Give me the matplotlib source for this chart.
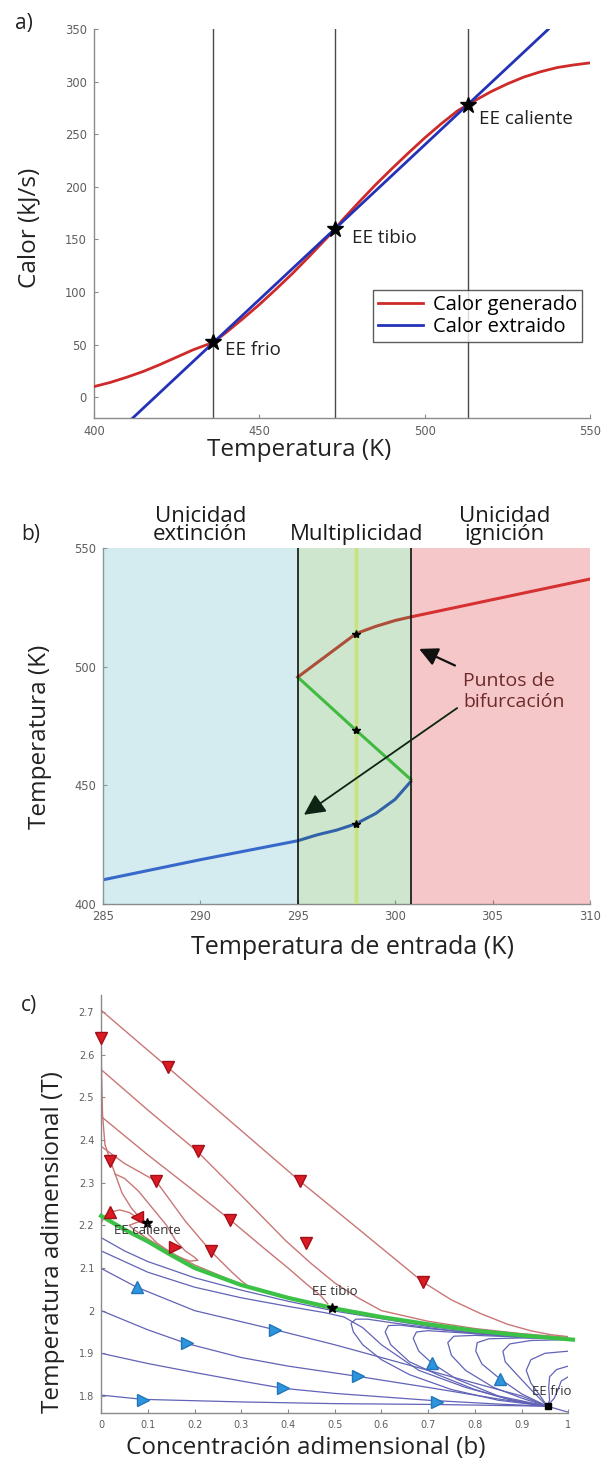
import matplotlib
matplotlib.use("Agg")
import matplotlib.pyplot as plt

plt.rcParams['font.family'] = ['Open Sans', 'DejaVu Sans']

# ---------------- Panel a data ----------------
gen_T = [400, 405, 410, 415, 420, 425, 430, 436, 440, 445, 450, 455, 460, 465, 470, 473,
         475, 480, 485, 490, 495, 500, 505, 510, 513, 515, 520, 525, 530, 535, 540, 545, 550]
gen_Q = [10, 14, 19, 24.5, 31, 38, 45, 52, 61.5, 74.5, 88, 102.5, 117.5, 133.5, 150, 160,
         168, 185, 201.5, 217, 232, 246.5, 260, 272.5, 278, 281.8, 290.5, 298, 304.5, 309.5, 313.5, 316, 318]
ext_T = [411.7, 537.4]
ext_Q = [-20, 350]
ss_T = [436, 473, 513]
ss_Q = [52, 160, 278]
ss_labels = ["EE frio", "EE tibio", "EE caliente"]
ss_label_T = [439.5, 478, 516.5]
ss_label_Q = [45, 151, 265]

# ---------------- Panel b data ----------------
hot_Tin = [295, 298, 299, 300, 300.8, 310]
hot_T = [495.6, 514, 517, 519.5, 521, 537]
mid_Tin = [295, 298, 300.8]
mid_T = [495.6, 473.1, 452.4]
cold_Tin = [285, 290, 295, 296, 297, 298, 299, 300, 300.8]
cold_T = [410, 418.5, 426.5, 429, 431, 433.7, 438, 444, 451.5]
region_edges = [285, 295, 300.8, 310]
region_names = ["Unicidad\nextinción", "Multiplicidad", "Unicidad\nignición"]
region_name_x = [290, 298, 305.6]
op_Tin = 298

# ---------------- Panel c data ----------------
green_b = [0, 0.05, 0.1, 0.15, 0.2, 0.3, 0.4, 0.5, 0.6, 0.7, 0.8, 0.9, 1.01]
green_T = [2.222, 2.19, 2.162, 2.13, 2.1, 2.06, 2.03, 2.005, 1.985, 1.968, 1.953, 1.942, 1.932]

red_b = [
    [0, 0.144, 0.3, 0.426, 0.55, 0.689, 0.75, 0.8125, 0.87, 0.919, 0.96, 1.0],
    [0, 0.1, 0.205, 0.3, 0.396, 0.45, 0.5, 0.55, 0.6, 0.7, 0.8, 0.9, 1.0],
    [0, 0.1, 0.19, 0.276, 0.35, 0.4, 0.44, 0.47, 0.485],
    [0, 0.05, 0.118, 0.18, 0.235, 0.28, 0.3, 0.312, 0.305, 0.29, 0.2, 0.15, 0.1, 0.07, 0.06, 0.08, 0.098],
    [0.03, 0.05, 0.08, 0.11, 0.14, 0.159, 0.18, 0.2, 0.207, 0.19, 0.16, 0.12, 0.1, 0.098],
    [0, 0, 0.001, 0.003, 0.008, 0.0186, 0.03, 0.045, 0.065, 0.085, 0.098],
    [0, 0.008, 0.019, 0.04, 0.06, 0.076, 0.09, 0.098],
]
red_T = [
    [2.704, 2.569, 2.422, 2.303, 2.192, 2.067, 2.025, 1.993, 1.968, 1.953, 1.944, 1.939],
    [2.565, 2.47, 2.374, 2.27, 2.163, 2.11, 2.065, 2.03, 2.0, 1.975, 1.958, 1.946, 1.937],
    [2.455, 2.365, 2.288, 2.213, 2.145, 2.1, 2.062, 2.035, 2.016],
    [2.385, 2.345, 2.303, 2.21, 2.139, 2.09, 2.07, 2.06, 2.058, 2.066, 2.107, 2.136, 2.168, 2.19, 2.2, 2.208, 2.206],
    [2.32, 2.31, 2.28, 2.24, 2.2, 2.165, 2.14, 2.125, 2.118, 2.116, 2.128, 2.158, 2.18, 2.206],
    [2.70, 2.64, 2.55, 2.46, 2.39, 2.355, 2.32, 2.275, 2.24, 2.215, 2.206],
    [2.205, 2.222, 2.231, 2.236, 2.23, 2.219, 2.21, 2.206],
]
red_mk_b = [0, 0.144, 0.208, 0.426, 0.019, 0.118, 0.276, 0.438, 0.689, 0.235, 0.159, 0.076, 0.019]
red_mk_T = [2.64, 2.572, 2.375, 2.303, 2.351, 2.303, 2.213, 2.159, 2.067, 2.139, 2.15, 2.219, 2.231]
red_mk_sym = ['v', 'v', 'v', 'v', 'v', 'v', 'v', 'v', 'v', 'v', '>', '<', '^']

blue_b = [
    [0, 0.05, 0.1, 0.2, 0.3, 0.4, 0.5, 0.6, 0.7, 0.8, 0.9, 1.0],
    [0, 0.1, 0.2, 0.3, 0.4, 0.48, 0.52, 0.56, 0.6, 0.68, 0.78, 0.88, 0.955],
    [0, 0.076, 0.2, 0.373, 0.5, 0.6, 0.7, 0.8, 0.9, 0.955],
    [0, 0.1, 0.183, 0.3, 0.4, 0.549, 0.7, 0.85, 0.955],
    [0, 0.1, 0.2, 0.3, 0.389, 0.5, 0.7, 0.85, 0.955],
    [0, 0.089, 0.3, 0.5, 0.718, 0.955],
    [1.0, 0.9, 0.8, 0.7, 0.62, 0.57, 0.545, 0.535, 0.54, 0.56, 0.6, 0.66, 0.75, 0.85, 0.955],
    [1.0, 0.9, 0.8, 0.7, 0.64, 0.615, 0.608, 0.62, 0.66, 0.72, 0.8, 0.88, 0.955],
    [1.0, 0.9, 0.8, 0.7, 0.675, 0.668, 0.68, 0.708, 0.76, 0.85, 0.955],
    [1.0, 0.9, 0.8, 0.755, 0.742, 0.75, 0.78, 0.84, 0.9, 0.955],
    [1.0, 0.9, 0.83, 0.805, 0.802, 0.815, 0.854, 0.9, 0.955],
    [1.0, 0.92, 0.875, 0.86, 0.865, 0.89, 0.92, 0.955],
    [1.0, 0.95, 0.92, 0.91, 0.92, 0.94, 0.955],
    [1.0, 0.975, 0.96, 0.958, 0.96, 0.955],
    [1.0, 0.985, 0.978, 0.97, 0.955],
    [0.955, 0.99, 1.0],
]
blue_T = [
    [2.171, 2.14, 2.115, 2.077, 2.048, 2.022, 1.999, 1.981, 1.963, 1.95, 1.94, 1.934],
    [2.14, 2.09, 2.055, 2.03, 2.01, 1.995, 1.985, 1.96, 1.92, 1.86, 1.82, 1.79, 1.776],
    [2.099, 2.055, 2.0, 1.955, 1.92, 1.89, 1.86, 1.83, 1.8, 1.776],
    [2.0, 1.955, 1.923, 1.89, 1.87, 1.846, 1.82, 1.793, 1.776],
    [1.9, 1.876, 1.855, 1.835, 1.818, 1.806, 1.79, 1.781, 1.776],
    [1.802, 1.792, 1.786, 1.782, 1.78, 1.776],
    [1.934, 1.937, 1.946, 1.96, 1.972, 1.98, 1.98, 1.97, 1.95, 1.92, 1.885, 1.85, 1.815, 1.79, 1.776],
    [1.934, 1.938, 1.948, 1.958, 1.966, 1.965, 1.95, 1.92, 1.88, 1.85, 1.815, 1.79, 1.776],
    [1.934, 1.938, 1.946, 1.953, 1.95, 1.935, 1.905, 1.877, 1.84, 1.8, 1.776],
    [1.934, 1.938, 1.942, 1.94, 1.925, 1.895, 1.86, 1.82, 1.795, 1.776],
    [1.934, 1.936, 1.934, 1.925, 1.905, 1.875, 1.84, 1.805, 1.776],
    [1.932, 1.93, 1.922, 1.905, 1.88, 1.85, 1.815, 1.776],
    [1.905, 1.9, 1.885, 1.86, 1.83, 1.8, 1.776],
    [1.87, 1.862, 1.845, 1.82, 1.79, 1.776],
    [1.845, 1.835, 1.815, 1.795, 1.776],
    [1.776, 1.765, 1.762],
]
blue_mk_b = [0.076, 0.183, 0.373, 0.089, 0.389, 0.549, 0.708, 0.718, 0.854]
blue_mk_T = [2.055, 1.923, 1.955, 1.79, 1.818, 1.846, 1.877, 1.786, 1.84]
blue_mk_sym = ['^', '>', '>', '>', '>', '>', '^', '>', '^']

ee_b = [0.098, 0.494, 0.956]
ee_T = [2.206, 2.006, 1.776]
ee_names = ["EE caliente", "EE tibio", "EE frio"]
ee_name_b = [0.1, 0.5, 0.965]
ee_name_T = [2.187, 2.045, 1.81]

# ---------------- Figure ----------------
fig = plt.figure(figsize=(6.02, 14.62), dpi=100)

AX_GRAY = '#8a8a8a'
TICK_COL = '#5e5e5e'
LAB_FS = 17.5
LAB_COL = '#222222'


def style(ax, labelsize=8.3):
    for s in ['top', 'right']:
        ax.spines[s].set_visible(False)
    for s in ['left', 'bottom']:
        ax.spines[s].set_color(AX_GRAY)
        ax.spines[s].set_linewidth(1.0)
    ax.tick_params(direction='in', length=3, color=AX_GRAY, labelcolor=TICK_COL,
                   labelsize=labelsize, pad=5)
    for lab in ax.get_xticklabels() + ax.get_yticklabels():
        lab.set_family('DejaVu Sans')


# ---- Panel a ----
axa = fig.add_axes([0.156, 0.714, 0.824, 0.266])
for t in ss_T:
    axa.axvline(t, color='#4a4a4a', lw=1.0, zorder=1)
axa.plot(gen_T, gen_Q, color='#cf2a2a', lw=2.0, label='Calor generado', zorder=3)
axa.plot(ext_T, ext_Q, color='#2432b8', lw=2.0, label='Calor extraido', zorder=3)
axa.plot(ss_T, ss_Q, linestyle='none', marker='*', color='k', ms=12, zorder=5)
for name, x, y in zip(ss_labels, ss_label_T, ss_label_Q):
    axa.text(x, y, name, fontsize=13.5, color='#222222', va='center', ha='left')
axa.set_xlim(400, 550)
axa.set_ylim(-20, 350)
axa.set_xticks([400, 450, 500, 550])
axa.set_yticks([0, 50, 100, 150, 200, 250, 300, 350])
style(axa)
leg = axa.legend(loc='lower right', bbox_to_anchor=(0.984, 0.195), fontsize=14.5,
                 frameon=True, fancybox=False, edgecolor='#333333', handlelength=2.2,
                 borderpad=0.25, labelspacing=0.1, handletextpad=0.5, borderaxespad=0)
leg.get_frame().set_linewidth(1.0)
axa.set_ylabel('Calor (kJ/s)', fontsize=LAB_FS, color=LAB_COL)
axa.yaxis.set_label_coords(-0.105, 0.49)
axa.set_xlabel('Temperatura (K)', fontsize=LAB_FS, color=LAB_COL)
axa.xaxis.set_label_coords(0.413, -0.05)

# ---- Panel b ----
axb = fig.add_axes([0.171, 0.382, 0.809, 0.243])
axb.plot(cold_Tin, cold_T, color='#1f44c8', lw=2.2, zorder=2)
axb.plot(mid_Tin, mid_T, color='#33c233', lw=2.2, zorder=2)
axb.plot(hot_Tin, hot_T, color='#d02828', lw=2.2, zorder=2)
span_cols = ['#73bfd0', '#5fac5f', '#e4474b']
for i in range(3):
    axb.axvspan(region_edges[i], region_edges[i + 1], color=span_cols[i], alpha=0.3,
                lw=0, zorder=3)
axb.axvline(op_Tin, color='#c9e27a', lw=2.5, zorder=4)
for t in region_edges[1:3]:
    axb.axvline(t, color='#111111', lw=1.2, zorder=5)
axb.plot([op_Tin] * 3, [hot_T[1], mid_T[1], cold_T[5]], linestyle='none', marker='*',
         color='k', ms=6, zorder=6)
axb.annotate('', xy=(301.1, 508), xytext=(303.2, 500),
             arrowprops=dict(arrowstyle='-|>', color='#111111', lw=1.6, mutation_scale=28),
             zorder=7)
axb.annotate('', xy=(295.2, 436.8), xytext=(303.3, 483.2),
             arrowprops=dict(arrowstyle='-|>', color='#0c2414', lw=1.3, mutation_scale=32),
             zorder=7)
axb.text(303.5, 489.5, 'Puntos de\nbifurcación', fontsize=14, color='#6e2a2a',
         ha='left', va='center', linespacing=1.2, zorder=8)
for name, x in zip(region_names, region_name_x):
    axb.text(x, 551.5, name, fontsize=16, color='#1a1a1a', ha='center', va='bottom',
             linespacing=0.8, clip_on=False)
axb.set_xlim(285, 310)
axb.set_ylim(400, 550)
axb.set_xticks([285, 290, 295, 300, 305, 310])
axb.set_yticks([400, 450, 500, 550])
style(axb)
axb.set_ylabel('Temperatura (K)', fontsize=LAB_FS, color=LAB_COL)
axb.yaxis.set_label_coords(-0.105, 0.47)
axb.set_xlabel('Temperatura de entrada (K)', fontsize=LAB_FS + 0.5, color=LAB_COL)
axb.xaxis.set_label_coords(0.513, -0.088)

# ---- Panel c ----
axc = fig.add_axes([0.168, 0.0335, 0.776, 0.286])
for bb, tt in zip(blue_b, blue_T):
    axc.plot(bb, tt, color='#6163b6', lw=0.9, zorder=2)
for bb, tt in zip(red_b, red_T):
    axc.plot(bb, tt, color='#c97676', lw=1.0, zorder=2)
axc.plot(green_b, green_T, color='#3cc147', lw=3.0, zorder=4, clip_on=False)
for b, t, s in zip(red_mk_b, red_mk_T, red_mk_sym):
    axc.plot(b, t, marker=s, color='#dc1a24', mec='#a01018', ms=9, zorder=6, clip_on=False)
for b, t, s in zip(blue_mk_b, blue_mk_T, blue_mk_sym):
    axc.plot(b, t, marker=s, color='#2d94de', mec='#2277bb', ms=9, zorder=6)
axc.plot(ee_b[:2], ee_T[:2], linestyle='none', marker='*', color='k', ms=7, zorder=7)
axc.plot(ee_b[2], ee_T[2], marker='s', color='k', ms=4, zorder=7)
for name, x, y in zip(ee_names, ee_name_b, ee_name_T):
    axc.text(x, y, name, fontsize=9.5, color='#333333', ha='center', va='center', zorder=8)
axc.set_xlim(0, 1)
axc.set_ylim(1.76, 2.74)
axc.set_xticks([0, 0.1, 0.2, 0.3, 0.4, 0.5, 0.6, 0.7, 0.8, 0.9, 1])
axc.set_xticklabels(['0', '0.1', '0.2', '0.3', '0.4', '0.5', '0.6', '0.7', '0.8', '0.9', '1'])
axc.set_yticks([1.8, 1.9, 2.0, 2.1, 2.2, 2.3, 2.4, 2.5, 2.6, 2.7])
axc.set_yticklabels(['1.8', '1.9', '2', '2.1', '2.2', '2.3', '2.4', '2.5', '2.6', '2.7'])
style(axc, labelsize=7)
axc.set_ylabel('Temperatura adimensional (T)', fontsize=LAB_FS, color=LAB_COL)
axc.yaxis.set_label_coords(-0.078, 0.41)
axc.set_xlabel('Concentración adimensional (b)', fontsize=LAB_FS, color=LAB_COL)
axc.xaxis.set_label_coords(0.437, -0.055)

# panel letters
fig.text(0.025, 1 - 24 / 1462, 'a)', fontsize=15, color='#222222', va='center')
fig.text(0.035, 1 - 535 / 1462, 'b)', fontsize=15, color='#222222', va='center')
fig.text(0.035, 1 - 1005 / 1462, 'c)', fontsize=15, color='#222222', va='center')

fig.savefig('out.png', dpi=100)
